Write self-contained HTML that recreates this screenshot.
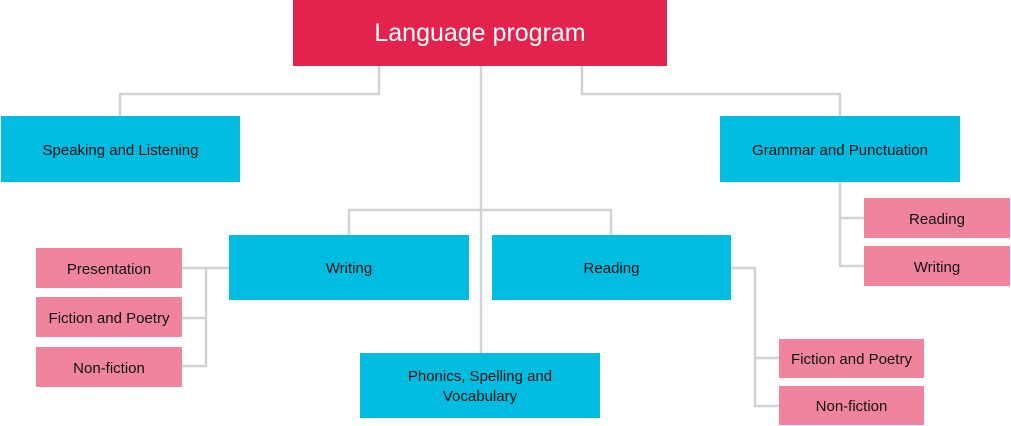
<!DOCTYPE html>
<html><head><style>
body{margin:0;width:1011px;height:426px;background:#fff;position:relative;overflow:hidden;font-family:"Liberation Sans",sans-serif;}
.b{position:absolute;display:flex;align-items:center;justify-content:center;text-align:center;color:#111;font-size:15px;line-height:20px;box-sizing:border-box;padding-top:3px;}
.c{background:#00bce0;}
.p{background:#f0849f;font-size:15px;}
svg{position:absolute;left:0;top:0;}
</style></head><body>
<svg width="1011" height="426"><g stroke="#d0d3d6" stroke-width="2.5" fill="none">
<polyline points="379,66 379,94 120,94 120,116"/>
<polyline points="582,66 582,94 840,94 840,116"/>
<line x1="481" y1="66" x2="481" y2="353"/>
<polyline points="349,235 349,210 611,210 611,235"/>
<line x1="229" y1="268" x2="182" y2="268"/>
<polyline points="206,268 206,366 182,366"/>
<line x1="206" y1="318" x2="182" y2="318"/>
<polyline points="840,182 840,266 864,266"/>
<line x1="840" y1="218" x2="864" y2="218"/>
<polyline points="731,268 755,268 755,406 779,406"/>
<line x1="755" y1="358" x2="779" y2="358"/>
</g></svg>
<div class="b" style="left:293px;top:0;width:374px;height:66px;background:#e4224e;color:#fff;font-size:25px;padding-top:0;">Language program</div>
<div class="b c" style="left:1px;top:116px;width:239px;height:66px;">Speaking and Listening</div>
<div class="b c" style="left:720px;top:116px;width:240px;height:66px;">Grammar and Punctuation</div>
<div class="b c" style="left:229px;top:235px;width:240px;height:65px;">Writing</div>
<div class="b c" style="left:492px;top:235px;width:239px;height:65px;">Reading</div>
<div class="b c" style="left:360px;top:353px;width:240px;height:65px;">Phonics, Spelling and<br>Vocabulary</div>
<div class="b p" style="left:36px;top:248px;width:146px;height:40px;">Presentation</div>
<div class="b p" style="left:36px;top:297px;width:146px;height:40px;">Fiction and Poetry</div>
<div class="b p" style="left:36px;top:347px;width:146px;height:40px;">Non-fiction</div>
<div class="b p" style="left:864px;top:198px;width:146px;height:40px;">Reading</div>
<div class="b p" style="left:864px;top:246px;width:146px;height:40px;">Writing</div>
<div class="b p" style="left:779px;top:339px;width:145px;height:39px;">Fiction and Poetry</div>
<div class="b p" style="left:779px;top:386px;width:145px;height:39px;">Non-fiction</div>
</body></html>
